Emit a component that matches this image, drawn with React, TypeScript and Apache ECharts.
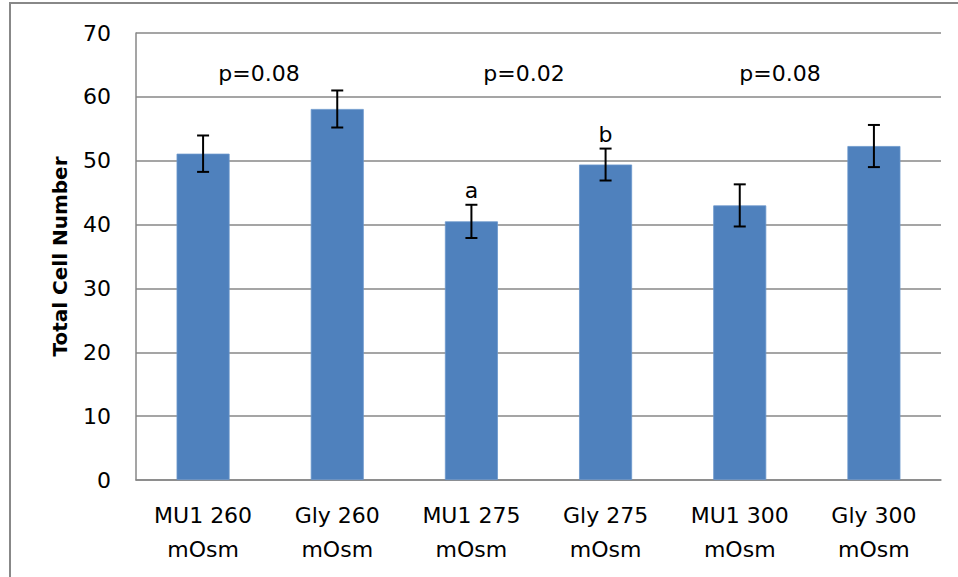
import React, { useEffect, useRef } from "react";
import * as echarts from "echarts";

const categories = ["MU1 260\nmOsm", "Gly 260\nmOsm", "MU1 275\nmOsm", "Gly 275\nmOsm", "MU1 300\nmOsm", "Gly 300\nmOsm"];
const means = [51.1, 58.1, 40.5, 49.4, 43.0, 52.3];
const errors = [2.85, 2.9, 2.6, 2.5, 3.3, 3.3];
const letters = ["", "", "a", "b", "", ""];
const pLabels = ["p=0.08", "p=0.02", "p=0.08"];
const pLabelX = [259, 524, 780];
const yTicks = [0, 10, 20, 30, 40, 50, 60, 70];

const FONT = "DejaVu Sans";

export default function App() {
  const ref = useRef<HTMLDivElement>(null);
  useEffect(() => {
    if (!ref.current) return;
    const chart = echarts.init(ref.current, null, { renderer: "svg" });
    const errData = means.map((m, i) => [i, m - errors[i], m + errors[i], letters[i]]);
    chart.setOption({
      animation: false,
      backgroundColor: "#ffffff",
      grid: { left: 136, right: 17, top: 33, bottom: 97, containLabel: false },
      xAxis: {
        type: "category",
        data: categories,
        axisLine: { show: true, lineStyle: { color: "#878787", width: 1.5 } },
        axisTick: { show: false },
        axisLabel: {
          interval: 0,
          margin: 18,
          color: "#000",
          fontFamily: FONT,
          fontSize: 22,
          lineHeight: 34,
        },
      },
      yAxis: {
        type: "value",
        min: yTicks[0],
        max: yTicks[yTicks.length - 1],
        interval: 10,
        name: "Total Cell Number",
        nameLocation: "middle",
        nameGap: 66,
        nameRotate: 90,
        nameTextStyle: { fontFamily: FONT, fontSize: 20, fontWeight: "bold", color: "#000" },
        axisLine: { show: true, lineStyle: { color: "#878787", width: 1.5 } },
        axisTick: { show: false },
        axisLabel: { margin: 25, color: "#000", fontFamily: FONT, fontSize: 22 },
        splitLine: { show: true, lineStyle: { color: "#878787", width: 1.5 } },
      },
      series: [
        {
          type: "bar",
          data: means,
          barWidth: 53,
          itemStyle: { color: "#4F81BD", borderColor: "#6b97cc", borderWidth: 0.8 },
          z: 2,
        },
        {
          type: "custom",
          data: errData,
          z: 5,
          renderItem: (params: any, api: any) => {
            const i = api.value(0);
            const lo = api.coord([i, api.value(1)]);
            const hi = api.coord([i, api.value(2)]);
            const x = lo[0];
            const cap = 6;
            const style = { stroke: "#000", lineWidth: 2 };
            const children: any[] = [
              { type: "line", shape: { x1: x, y1: hi[1], x2: x, y2: lo[1] }, style },
              { type: "line", shape: { x1: x - cap, y1: hi[1], x2: x + cap, y2: hi[1] }, style },
              { type: "line", shape: { x1: x - cap, y1: lo[1], x2: x + cap, y2: lo[1] }, style },
            ];
            const letter = letters[params.dataIndex];
            if (letter) {
              children.push({
                type: "text",
                x: x,
                y: hi[1] - 14,
                style: {
                  text: letter,
                  fontFamily: FONT,
                  fontSize: 22,
                  fill: "#000",
                  align: "center",
                  verticalAlign: "middle",
                },
              });
            }
            return { type: "group", children };
          },
        },
      ],
      graphic: [
        {
          type: "rect",
          shape: { x: 10, y: 3, width: 1000, height: 700 },
          style: { fill: "none", stroke: "#888888", lineWidth: 2 },
          silent: true,
        },
        ...pLabels.map((t, k) => ({
          type: "text",
          x: pLabelX[k],
          y: 73,
          style: {
            text: t,
            fontFamily: FONT,
            fontSize: 22,
            fill: "#000",
            align: "center",
            verticalAlign: "middle",
          },
        })),
      ],
    });
    return () => chart.dispose();
  }, []);
  return <div ref={ref} style={{ position: "fixed", left: 0, top: 0, width: 958, height: 577 }} />;
}
